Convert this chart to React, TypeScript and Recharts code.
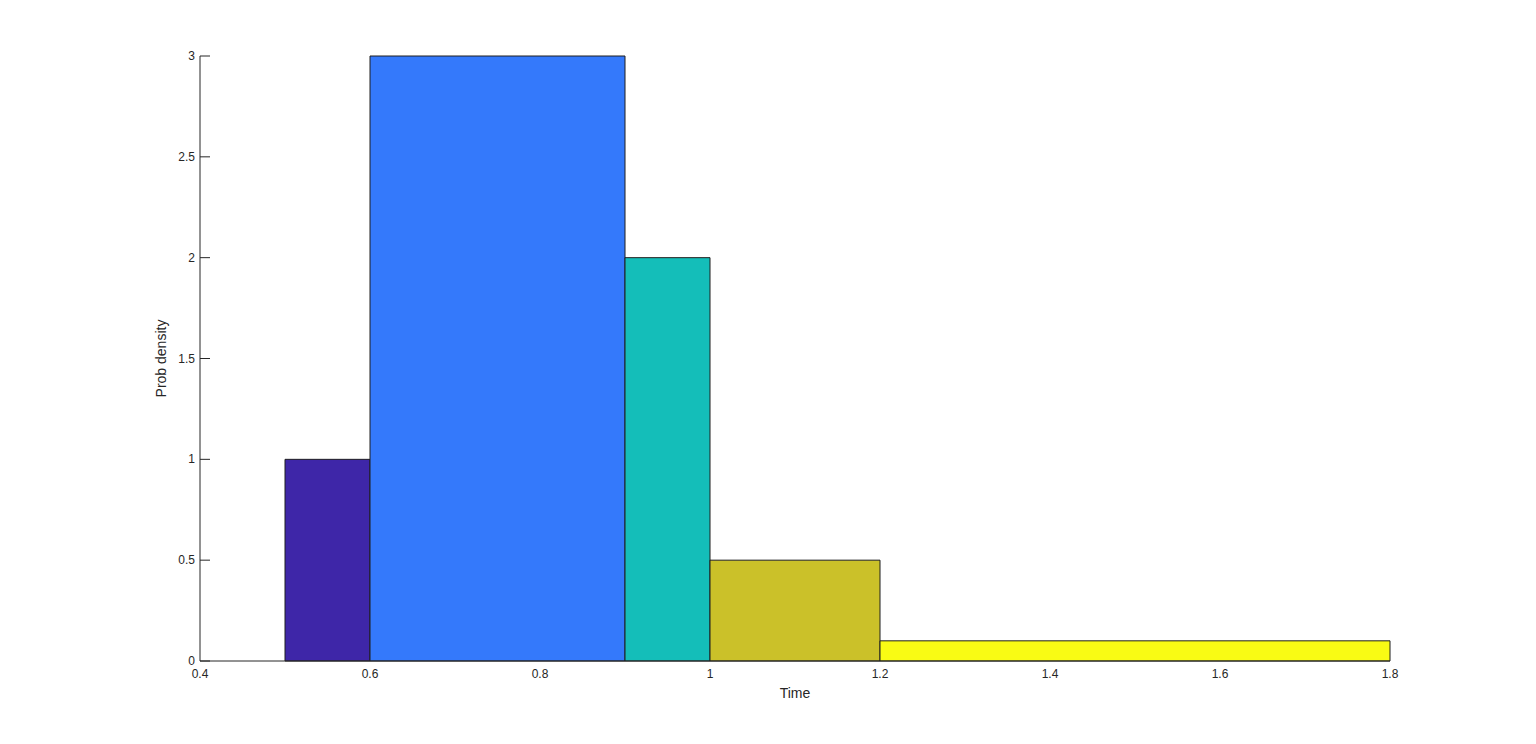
import React from 'react';
import { ComposedChart, XAxis, YAxis, ReferenceArea, Label } from 'recharts';

const binStarts = [0.5, 0.6, 0.9, 1.0, 1.2];
const binEnds = [0.6, 0.9, 1.0, 1.2, 1.8];
const densities = [1, 3, 2, 0.5, 0.1];
const binColors = ['#3e26a8', '#3479fb', '#14beb9', '#cbc129', '#f9fb14'];
const xTicks = [0.4, 0.6, 0.8, 1, 1.2, 1.4, 1.6, 1.8];
const yTicks = [0, 0.5, 1, 1.5, 2, 2.5, 3];

const bins = binStarts.map((x0, i) => ({ x0, x1: binEnds[i], h: densities[i] }));

const FONT = '"Liberation Sans", Arial, Helvetica, sans-serif';
const INK = '#262626';

const YTick = (props: any) => {
  const { x, y, payload } = props;
  return (
    <g>
      <line x1={x} y1={y} x2={x + 10} y2={y} stroke={INK} strokeWidth={1} />
      <text x={x - 5} y={y} dy={4} textAnchor="end" fill={INK} fontSize={12} fontFamily={FONT}>
        {payload.value}
      </text>
    </g>
  );
};

const XTick = (props: any) => {
  const { x, y, payload } = props;
  return (
    <text x={x} y={y} dy={17} textAnchor="middle" fill={INK} fontSize={12} fontFamily={FONT}>
      {payload.value}
    </text>
  );
};

export default function App() {
  return (
    <div style={{ position: 'absolute', left: 0, top: 0, width: 1536, height: 744, background: '#fff' }}>
      <ComposedChart
        width={1536}
        height={744}
        data={bins}
        margin={{ top: 56, right: 146, bottom: 0, left: 150 }}
      >
        <XAxis
          dataKey="x0"
          type="number"
          domain={[0.4, 1.8]}
          ticks={xTicks}
          allowDataOverflow
          tickLine={false}
          tickSize={0}
          tickMargin={0}
          tick={<XTick />}
          axisLine={{ stroke: INK }}
          height={83}
        >
          <Label value="Time" position="insideTop" offset={27} fill={INK} fontSize={14} fontFamily={FONT} />
        </XAxis>
        <YAxis
          type="number"
          domain={[0, 3]}
          ticks={yTicks}
          allowDataOverflow
          tickLine={false}
          tickSize={0}
          tickMargin={0}
          tick={<YTick />}
          axisLine={{ stroke: INK }}
          width={50}
        >
          <Label
            value="Prob density"
            angle={-90}
            position="insideLeft"
            offset={11}
            style={{ textAnchor: 'middle' }}
            fill={INK}
            fontSize={14}
            fontFamily={FONT}
          />
        </YAxis>
        {bins.map((b, i) => (
          <ReferenceArea
            key={i}
            x1={b.x0}
            x2={b.x1}
            y1={0}
            y2={b.h}
            fill={binColors[i]}
            fillOpacity={1}
            stroke="#1f1f1f"
            strokeWidth={1}
            strokeOpacity={1}
          />
        ))}
      </ComposedChart>
    </div>
  );
}
